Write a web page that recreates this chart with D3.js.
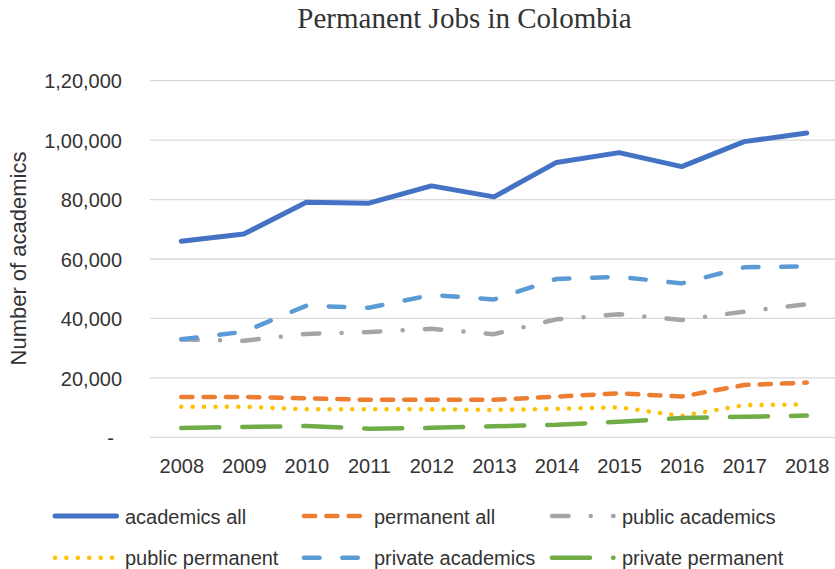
<!DOCTYPE html>
<html>
<head>
<meta charset="utf-8">
<script src="https://cdn.jsdelivr.net/npm/d3@7"></script>
<style>
  body { margin: 0; background: #fff; }
  svg { display: block; }
  text { font-family: "Liberation Sans", Arial, sans-serif; fill: #333; }
</style>
</head>
<body>
<div class="chart"></div>
<script>
// chart data
const years = [2008, 2009, 2010, 2011, 2012, 2013, 2014, 2015, 2016, 2017, 2018];
const academicsAll     = [66000, 68400, 79100, 78800, 84600, 80900, 92500, 95800, 91100, 99500, 102400];
const permanentAll     = [13600, 13600, 13100, 12600, 12600, 12600, 13700, 14800, 13700, 17600, 18400];
const publicAcademics  = [32900, 32500, 34800, 35400, 36500, 34700, 39700, 41400, 39500, 42300, 44800];
const publicPermanent  = [10300, 10300, 9400, 9400, 9400, 9200, 9600, 10100, 7200, 10800, 11100];
const privateAcademics = [33000, 35500, 44300, 43600, 47900, 46400, 53300, 54000, 51800, 57200, 57500];
const privatePermanent = [3100, 3500, 3800, 2900, 3200, 3700, 4200, 5200, 6500, 6900, 7300];
const seriesNames = ["academics all", "permanent all", "public academics",
                     "public permanent", "private academics", "private permanent"];
const yTicks = [0, 20000, 40000, 60000, 80000, 100000, 120000];

const w = 835;
const h = 569;

// one style per series, in draw order
const styles = [
  { color: "#4472C4", dash: null },
  { color: "#ED7D31", dash: "11.2,11.1" },
  { color: "#A5A5A5", dash: "16.5,22.25,0.01,22.25" },
  { color: "#FFC000", dash: "0.01,11.4" },
  { color: "#5B9BD5", dash: "15.5,22.8" },
  { color: "#70AD47", dash: "38,23" }
];
const values = [academicsAll, permanentAll, publicAcademics,
                publicPermanent, privateAcademics, privatePermanent];

// indian style grouping, e.g. 1,20,000
function indian(v) {
  if (v === 0) return "-";
  const s = String(v);
  const last3 = s.slice(-3);
  let rest = s.slice(0, -3);
  rest = rest.replace(/\B(?=(\d{2})+(?!\d))/g, ",");
  return rest ? rest + "," + last3 : last3;
}

const svg = d3.select(".chart").append("svg")
  .attr("width", w)
  .attr("height", h);

const x = d3.scalePoint()
  .domain(years)
  .range([150, 838])
  .padding(0.5);

const y = d3.scaleLinear()
  .domain([0, 120000])
  .range([437.3, 80.7]);

// gridlines
svg.append("g")
  .selectAll("line")
  .data(yTicks)
  .enter()
  .append("line")
  .attr("x1", 150)
  .attr("x2", 835)
  .attr("y1", d => y(d))
  .attr("y2", d => y(d))
  .attr("stroke", "#d9d9d9")
  .attr("stroke-width", 1.3);

// y axis labels
const yAxis = svg.append("g")
  .attr("transform", "translate(122,0)")
  .call(d3.axisLeft(y).tickValues(yTicks).tickSize(0).tickPadding(0).tickFormat(indian));
yAxis.select(".domain").remove();
yAxis.selectAll("text")
  .style("font-size", "20px")
  .style("font-family", "Liberation Sans, Arial, sans-serif")
  .attr("fill", "#333")
  .attr("dy", "0.36em")
  .attr("x", d => d === 0 ? -8 : 0);

// x axis labels
const xAxis = svg.append("g")
  .attr("transform", "translate(0,437.3)")
  .call(d3.axisBottom(x).tickSize(0).tickPadding(0));
xAxis.select(".domain").remove();
xAxis.selectAll("text")
  .style("font-size", "20px")
  .style("font-family", "Liberation Sans, Arial, sans-serif")
  .attr("fill", "#333")
  .attr("dy", 0)
  .attr("y", 36);

// lines
const line = d3.line()
  .x((d, i) => x(years[i]))
  .y(d => y(d));

svg.append("g")
  .selectAll("path")
  .data(values)
  .enter()
  .append("path")
  .attr("d", d => line(d))
  .attr("fill", "none")
  .attr("stroke", (d, i) => styles[i].color)
  .attr("stroke-width", (d, i) => i === 0 ? 5 : 4.5)
  .attr("stroke-linecap", "round")
  .attr("stroke-linejoin", "round")
  .attr("stroke-dasharray", (d, i) => styles[i].dash);

// title
svg.append("text")
  .attr("x", 464.5)
  .attr("y", 28)
  .attr("text-anchor", "middle")
  .style("font-family", "Liberation Serif, Times New Roman, serif")
  .style("font-size", "29px")
  .attr("fill", "#111")
  .text("Permanent Jobs in Colombia");

// y axis title
svg.append("text")
  .attr("transform", "translate(26,258.5) rotate(-90)")
  .attr("text-anchor", "middle")
  .style("font-size", "22px")
  .text("Number of academics");

// legend
const legendX = [55, 304, 552];
const legendY = [516, 557.7];
const legend = svg.append("g")
  .selectAll("g")
  .data(seriesNames)
  .enter()
  .append("g")
  .attr("transform", (d, i) => `translate(${legendX[i % 3]},${legendY[Math.floor(i / 3)]})`);

legend.append("line")
  .attr("x1", 0)
  .attr("x2", 61.5)
  .attr("stroke", (d, i) => styles[i].color)
  .attr("stroke-width", (d, i) => i === 0 ? 5 : 4.5)
  .attr("stroke-linecap", "round")
  .attr("stroke-dasharray", (d, i) => styles[i].dash);

legend.append("text")
  .attr("x", 70)
  .attr("y", 7.5)
  .style("font-size", "20px")
  .text(d => d);
</script>
</body>
</html>
